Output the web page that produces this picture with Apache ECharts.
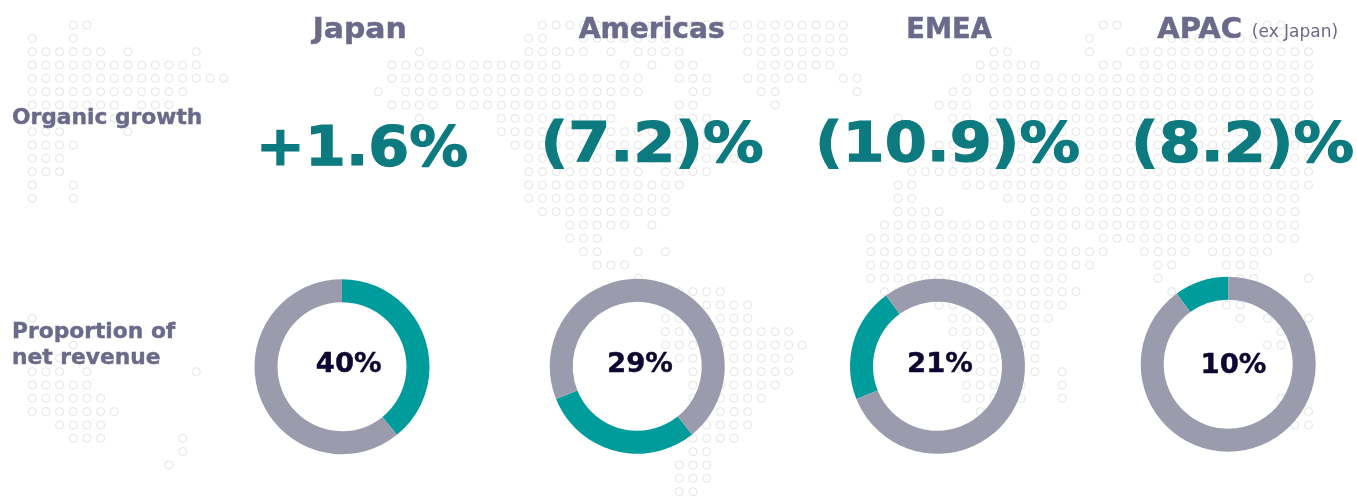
<!DOCTYPE html>
<html>
<head>
<meta charset="utf-8">
<title>Regional growth</title>
<style>
html, body { margin: 0; padding: 0; background: #fff; }
#chart { width: 1357px; height: 502px; }
</style>
<script src="https://cdn.jsdelivr.net/npm/echarts@6/dist/echarts.min.js"></script>
</head>
<body>
<div id="chart"></div>
<script>
var regions = ['Japan', 'Americas', 'EMEA', 'APAC'];
var growth = ['+1.6%', '(7.2)%', '(10.9)%', '(8.2)%'];
var shareLabels = ['40%', '29%', '21%', '10%'];
var arcShares = [39.2, 29.7, 21.1, 10.0];

// background dot map, [row, first column, last column] runs
var mapWest = [
    [1,3,4],[2,-1,0],[2,3,3],[3,-1,5],[3,7,7],[3,12,12],[4,-1,12],[5,-1,14],[6,-1,11],
    [7,-1,6],[7,8,10],[8,-1,6],[9,-1,2],[9,7,7],[10,-1,3],[11,-1,2],[12,-1,2],[13,-1,0],[13,3,3],
    [14,0,0],[14,3,3],[20,-1,-1],[23,-1,0],[25,3,3],[26,0,2],[27,-1,2],[27,4,4],[27,12,12],
    [28,-1,4],[29,-1,5],[30,-1,6],[31,-1,-1],[31,2,5],[32,3,5],[32,11,11],[33,11,11],[34,10,10]
];
var mapMain = [
    [0,12,13],[0,17,17],[0,19,21],[0,23,34],[0,43,43],
    [1,12,34],[1,53,54],[1,65,66],
    [2,11,12],[2,15,21],[2,27,34],[2,52,52],[2,58,66],
    [3,3,3],[3,11,15],[3,17,17],[3,19,22],[3,27,34],[3,45,46],[3,52,52],[3,55,68],
    [4,1,13],[4,18,18],[4,20,20],[4,22,23],[4,28,33],[4,44,48],[4,53,54],[4,56,68],
    [5,1,19],[5,22,24],[5,27,31],[5,34,35],[5,43,68],
    [6,0,0],[6,2,19],[6,23,24],[6,28,29],[6,35,35],[6,42,43],[6,45,68],
    [7,1,4],[7,6,17],[7,22,23],[7,29,29],[7,41,43],[7,45,68],
    [8,3,3],[8,9,17],[8,22,24],[8,38,38],[8,42,43],[8,45,68],
    [9,9,24],[9,43,68],
    [10,10,24],[10,41,68],
    [11,11,26],[11,41,68],
    [12,11,19],[12,21,24],[12,39,68],
    [13,11,22],[13,38,39],[13,43,50],[13,52,68],
    [14,11,21],[14,38,39],[14,46,50],[14,52,67],
    [15,12,21],[15,38,41],[15,48,67],
    [16,14,18],[16,20,20],[16,37,67],
    [17,14,16],[17,36,50],[17,53,67],
    [18,15,16],[18,19,19],[18,21,21],[18,36,47],[18,49,53],[18,56,59],[18,61,65],
    [19,16,18],[19,36,52],[19,57,58],[19,62,64],
    [20,19,19],[20,36,50],[20,57,57],[20,63,64],[20,68,68],
    [21,22,25],[21,37,51],[21,58,58],
    [22,24,27],[22,41,42],[22,46,50],[22,62,63],
    [23,21,27],[23,42,44],[23,47,49],[23,63,63],[23,65,65],[23,68,68],
    [24,21,30],[24,42,44],[24,47,48],[24,66,66],
    [25,21,31],[25,43,45],[25,47,48],[25,65,66],
    [26,22,30],[26,44,45],[26,48,48],
    [27,23,30],[27,44,45],[27,48,48],[27,50,50],
    [28,23,29],[28,43,45],[28,47,47],[28,50,50],
    [29,23,28],[29,43,45],[29,47,47],[29,50,50],[29,66,66],
    [30,24,27],[30,44,44],[30,68,68],
    [31,24,27],[31,67,68],
    [32,23,26],[33,23,24],[34,22,24],[35,22,24],[36,22,23],[37,23,23]
];

var westShift = -25.3;

var dots = [];
function addRuns(runs, shift) {
    for (var i = 0; i < runs.length; i++) {
        for (var c = runs[i][1]; c <= runs[i][2]; c++) {
            dots.push([c + shift, runs[i][0]]);
        }
    }
}
addRuns(mapWest, westShift);
addRuns(mapMain, 0);

var ringCenters = [[342, 366.7], [637.2, 366.3], [937.5, 366.3], [1228.2, 364.2]];
var headerX = [359.7, 651.7, 949, 1199.7];
var headerScale = [1.03, 0.97, 0.94, 1.0];
var growthX = [362, 652, 947.5, 1242.5];
var growthY = [150, 146, 146, 146];
var growthScale = [1.05, 1.08, 1.08, 1.08];
var shareX = [348.7, 640, 940, 1233.5];
var shareY = [365.5, 365, 365, 366];

var myChart = echarts.init(document.getElementById('chart'));

var series = [
    {
        type: 'scatter',
        silent: true,
        clip: true,
        z: 1,
        symbol: 'circle',
        symbolSize: 8,
        itemStyle: {color: 'transparent', borderColor: '#e4e4e6', borderWidth: 1, opacity: 1},
        data: dots
    }
];

var graphics = [];
var titleFont = '"DejaVu Sans", Verdana, sans-serif';

// Verdana-like bold: DejaVu widened a little and thickened with a thin stroke
function addText(text, x, y, size, color, align, weight, sx, thick) {
    graphics.push({
        type: 'text',
        x: x,
        y: y,
        scaleX: sx,
        z: 10,
        silent: true,
        style: {
            text: text,
            fill: color,
            stroke: thick ? color : null,
            lineWidth: thick,
            align: align,
            verticalAlign: 'middle',
            fontFamily: titleFont,
            fontSize: size,
            fontWeight: weight
        }
    });
}

var used = 0;
for (var i = 0; i < regions.length; i++) {
    // each ring starts where the previous region's arc stopped
    series.push({
        type: 'pie',
        silent: true,
        z: 5,
        center: ringCenters[i],
        radius: [64.5, 87.5],
        startAngle: 90 - used * 3.6,
        clockwise: true,
        label: {show: false},
        labelLine: {show: false},
        emphasis: {disabled: true},
        data: [
            {value: arcShares[i], name: regions[i], itemStyle: {color: '#009b9b'}},
            {value: 100 - arcShares[i], name: 'Other', itemStyle: {color: '#9b9bae'}}
        ]
    });
    used += arcShares[i];

    addText(regions[i], headerX[i], 30, 29, '#6b6a8a', 'center', 'bold', headerScale[i], 0.5);
    addText(growth[i], growthX[i], growthY[i], 56, '#0c7a7e', 'center', 'bold', growthScale[i], 1.2);
    addText(shareLabels[i], shareX[i], shareY[i], 26, '#0b0730', 'center', 'bold', 1.06, 0.4);
}

addText('(ex Japan)', 1295, 33, 17, '#6b6a8a', 'center', 'normal', 1, 0);
addText('Organic growth', 12, 118, 22, '#6b6a8a', 'left', 'bold', 0.99, 0.4);
addText('Proportion of', 12, 332, 22, '#6b6a8a', 'left', 'bold', 0.99, 0.4);
addText('net revenue', 12, 358, 22, '#6b6a8a', 'left', 'bold', 0.99, 0.4);

var options = {
    backgroundColor: '#ffffff',
    animation: false,
    tooltip: {show: false},
    grid: {left: 21, top: 13, right: 45.5, bottom: 0},
    xAxis: {type: 'value', min: -26.12, max: 68.22, show: false},
    yAxis: {type: 'value', min: 0.1, max: 36.78, inverse: true, show: false},
    series: series,
    graphic: graphics
};
myChart.setOption(options, true);
</script>
</body>
</html>
